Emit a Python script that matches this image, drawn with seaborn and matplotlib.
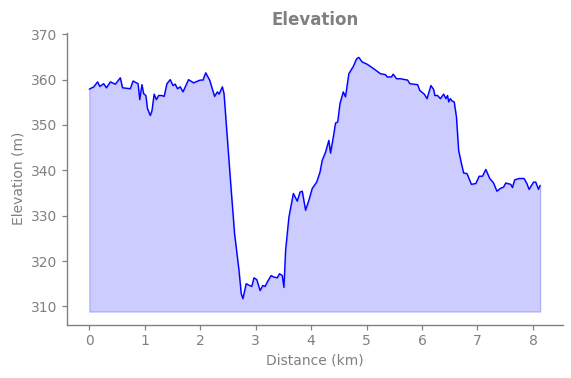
import matplotlib
matplotlib.use("Agg")
import matplotlib.pyplot as plt
import seaborn as sns
import numpy as np
import pandas as pd

distance_km = [0.00, 0.08, 0.15, 0.19, 0.26, 0.31, 0.38, 0.47, 0.56, 0.60,
               0.74, 0.79, 0.88, 0.91, 0.95, 0.98, 1.02, 1.05, 1.10, 1.13,
               1.17, 1.21, 1.25, 1.31, 1.35, 1.40, 1.46, 1.51, 1.55, 1.59,
               1.64, 1.69, 1.79, 1.88, 2.00, 2.05, 2.10, 2.17, 2.26, 2.31,
               2.34, 2.40, 2.43, 2.49, 2.55, 2.62, 2.70, 2.74, 2.77, 2.83,
               2.89, 2.93, 2.97, 3.02, 3.08, 3.13, 3.17, 3.22, 3.28, 3.32,
               3.39, 3.43, 3.48, 3.51, 3.54, 3.60, 3.68, 3.75, 3.80, 3.84,
               3.90, 3.96, 4.02, 4.10, 4.16, 4.20, 4.26, 4.32, 4.35, 4.40,
               4.44, 4.48, 4.52, 4.58, 4.62, 4.68, 4.76, 4.82, 4.86, 4.92,
               5.01, 5.13, 5.25, 5.34, 5.37, 5.45, 5.48, 5.54, 5.61, 5.74,
               5.78, 5.92, 5.96, 6.04, 6.09, 6.16, 6.21, 6.23, 6.28, 6.33,
               6.39, 6.43, 6.46, 6.48, 6.51, 6.54, 6.58, 6.62, 6.66, 6.71,
               6.75, 6.81, 6.89, 6.97, 7.03, 7.09, 7.15, 7.22, 7.29, 7.35,
               7.41, 7.47, 7.51, 7.60, 7.63, 7.67, 7.75, 7.84, 7.89, 7.93,
               8.01, 8.05, 8.10, 8.13]

elevation_m = [357.9, 358.4, 359.5, 358.5, 359.1, 358.2, 359.5, 359.0, 360.4, 358.2,
               358.0, 359.7, 359.1, 355.6, 358.9, 356.9, 356.5, 353.6, 352.1, 353.1,
               356.8, 355.6, 356.5, 356.5, 356.3, 359.1, 360.0, 358.7, 359.0, 358.0,
               358.4, 357.3, 360.0, 359.3, 359.9, 359.9, 361.5, 359.9, 356.3, 357.3,
               356.8, 358.4, 356.9, 346.9, 337.1, 326.0, 317.9, 312.8, 311.7, 315.0,
               314.6, 314.4, 316.3, 315.9, 313.5, 314.6, 314.4, 315.6, 316.8, 316.5,
               316.3, 317.2, 316.8, 314.2, 322.4, 329.7, 334.9, 333.2, 335.2, 335.4,
               331.2, 333.4, 336.0, 337.4, 339.6, 342.2, 344.0, 346.6, 343.8, 347.3,
               350.4, 350.7, 354.7, 357.3, 356.2, 361.3, 362.9, 364.6, 364.9, 363.9,
               363.4, 362.4, 361.3, 361.1, 360.6, 360.6, 361.2, 360.2, 360.2, 359.9,
               359.1, 358.9, 357.6, 356.8, 355.8, 358.7, 357.8, 356.5, 356.5, 355.8,
               356.8, 355.8, 356.5, 355.1, 355.8, 355.3, 355.1, 351.8, 344.4, 341.5,
               339.4, 339.3, 336.9, 337.1, 338.7, 338.7, 340.2, 338.2, 337.2, 335.4,
               336.0, 336.3, 337.2, 336.9, 336.2, 337.9, 338.2, 338.2, 337.1, 335.8,
               337.4, 337.4, 335.8, 336.7]

fill_base = 308.85

df = pd.DataFrame({"Distance (km)": distance_km, "Elevation (m)": elevation_m})

sns.set_theme(style="ticks")
plt.rcParams['font.family'] = ['DejaVu Sans']
grey = '#808080'

fig = plt.figure(figsize=(5.71, 3.78), dpi=100)
left, right, top, bottom = 66.7, 562.7, 32.9, 324.5
ax = fig.add_axes([left/571, 1 - bottom/378, (right - left)/571, (bottom - top)/378])

ax.fill_between(df["Distance (km)"], df["Elevation (m)"], fill_base,
                color='blue', alpha=0.2)
sns.lineplot(data=df, x="Distance (km)", y="Elevation (m)", ax=ax,
             color='blue', linewidth=1)

ax.set_ylim(306.0, 370.3)
ax.set_yticks([310, 320, 330, 340, 350, 360, 370])
ax.set_xticks(range(0, 9))

ax.set_title("Elevation", color=grey, fontsize=12, fontweight='bold', pad=6)
ax.set_xlabel("Distance (km)", color=grey, fontsize=10)
ax.set_ylabel("Elevation (m)", color=grey, fontsize=10)
ax.tick_params(colors=grey, labelcolor=grey, labelsize=10, length=3.5, width=0.9, pad=3.5)
for s in ['left', 'bottom']:
    ax.spines[s].set_color(grey)
    ax.spines[s].set_linewidth(1.0)
sns.despine(ax=ax)

fig.savefig("out.png", dpi=100)
